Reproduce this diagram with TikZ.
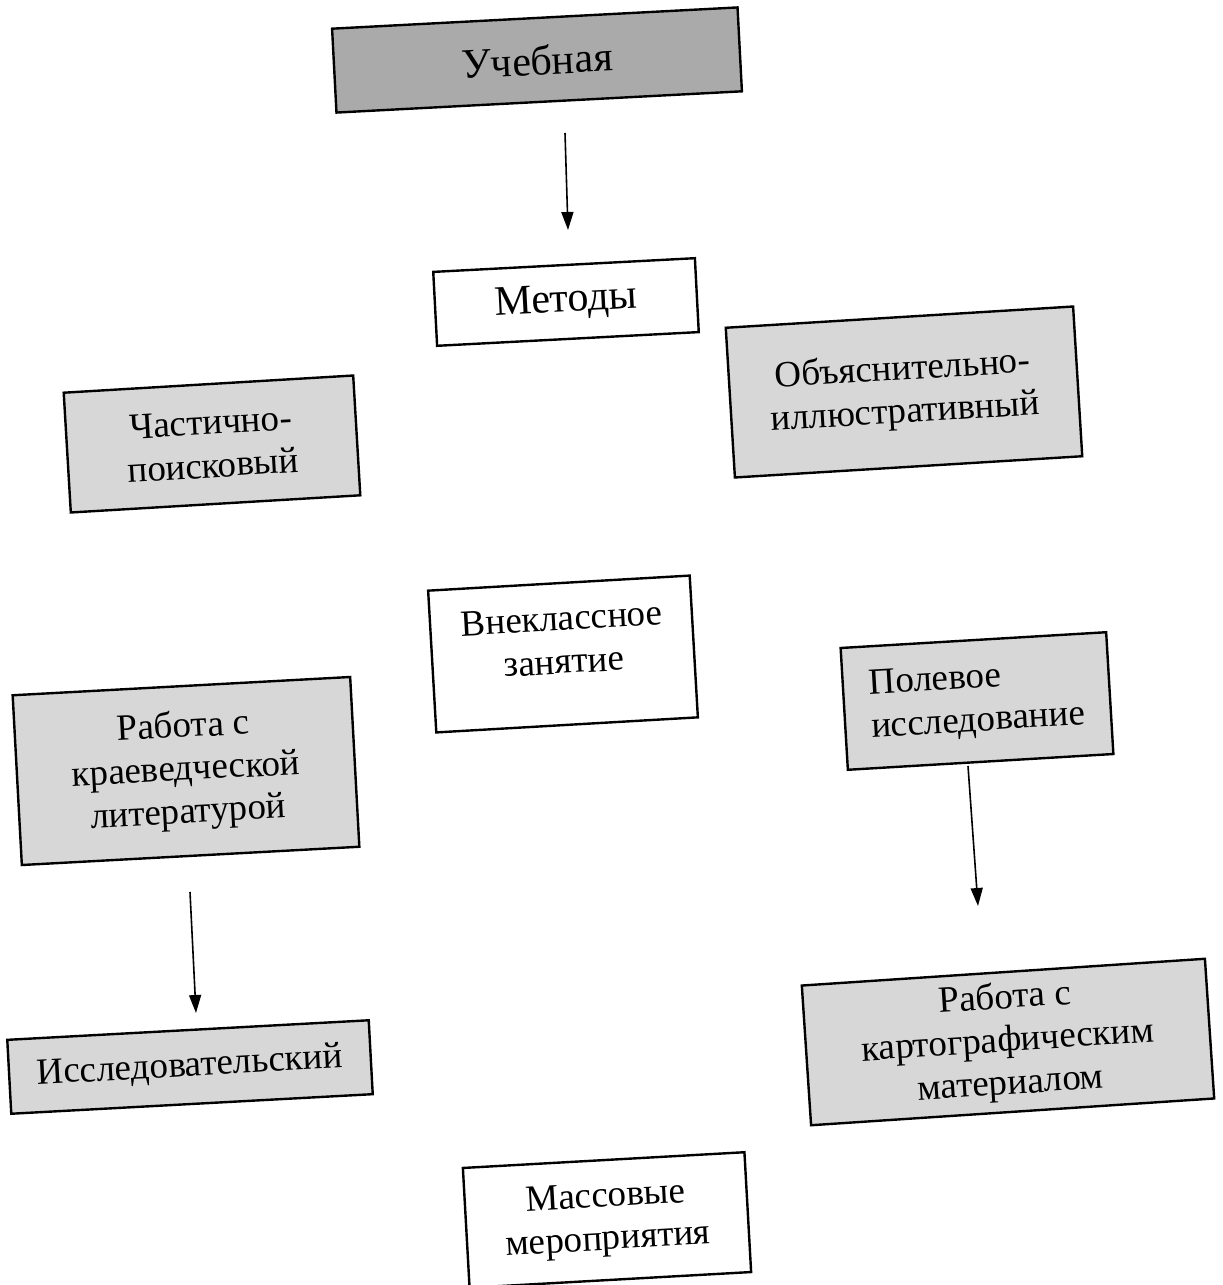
\documentclass[tikz,border=0pt]{standalone}
\usepackage{fontspec}
\setmainfont{Liberation Serif}
\usetikzlibrary{arrows.meta}
\definecolor{darkbox}{RGB}{170,170,170}
\definecolor{lightbox}{RGB}{215,215,215}
\tikzset{
  txt/.style={align=center, inner sep=0pt, font=\fontsize{18.5}{21.5}\selectfont},
  box/.style={txt, draw=black, line width=1.2pt},
  bigtext/.style={font=\fontsize{21}{23}\selectfont},
  darkfill/.style={fill=darkbox},
  lightfill/.style={fill=lightbox},
  whitefill/.style={fill=white},
  arr/.style={line width=0.8pt, -{Triangle[length=9pt,width=6pt]}},
}
\begin{document}
\begin{tikzpicture}[x=0.5pt,y=-0.5pt]
\fill[white] (0,0) rectangle (1222,1285);
\useasboundingbox (0,0) rectangle (1222,1285);

\node[box,darkfill,bigtext,minimum width=203pt,minimum height=42pt,rotate=3] (ucheb) at (537,60) {Учебная};
\node[box,whitefill,bigtext,minimum width=131pt,minimum height=37pt,rotate=3] (metody) at (566,302) {Методы};
\node[box,lightfill,minimum width=174pt,minimum height=75pt,rotate=3.5] (obyas) at (904,392) {Объяснительно-\\иллюстративный};
\node[box,lightfill,minimum width=145pt,minimum height=60pt,rotate=3.4] (chast) at (212,444) {Частично-\\поисковый};
\node[box,whitefill,minimum width=131pt,minimum height=71pt,rotate=3.3] (vnekl) at (563,654) {};
\node[txt,rotate=3.3] (vnekltext) at ([yshift=7pt]vnekl.center) {Внеклассное\\занятие};
\node[box,lightfill,align=left,minimum width=133pt,minimum height=61pt,rotate=3.4] (polev) at (977,701) {Полевое\\исследование};
\node[box,lightfill,minimum width=169pt,minimum height=85pt,rotate=3.1] (rabkr) at (186,771) {Работа с\\краеведческой\\литературой};
\node[box,lightfill,minimum width=181pt,minimum height=37pt,rotate=3.1] (issl) at (190,1067) {Исследовательский};
\node[box,lightfill,minimum width=202pt,minimum height=70pt,rotate=3.8] (rabkart) at (1008,1042) {Работа с\\картографическим\\материалом};
\node[box,whitefill,minimum width=141pt,minimum height=60pt,rotate=3.2] (mass) at (607,1220) {Массовые\\мероприятия};

\coordinate (a1s) at (565,133);
\coordinate (a1e) at (568,230);
\coordinate (a2s) at (190,892);
\coordinate (a2e) at (196,1013);
\coordinate (a3s) at (968,766);
\coordinate (a3e) at (978,906);
\draw[arr] (a1s) -- (a1e);
\draw[arr] (a2s) -- (a2e);
\draw[arr] (a3s) -- (a3e);
\end{tikzpicture}
\end{document}
